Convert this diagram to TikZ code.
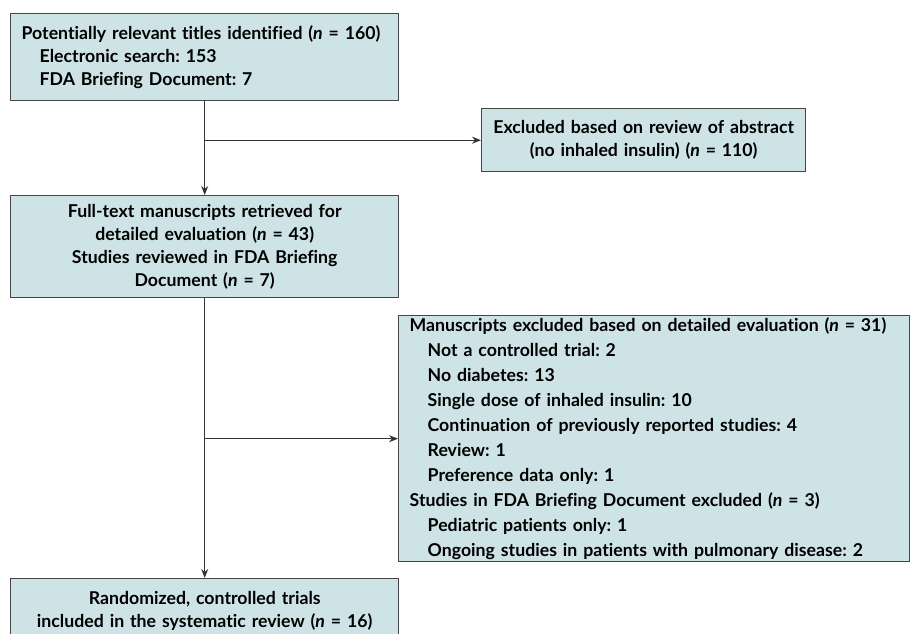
\documentclass[tikz,border=0pt]{standalone}
\usepackage{fontspec}
\setmainfont{Lato}[Ligatures=NoCommon]
\usetikzlibrary{arrows.meta}
\definecolor{boxfill}{RGB}{206,227,230}
\definecolor{boxline}{RGB}{70,70,70}
\frenchspacing

\begin{document}
\begin{tikzpicture}[x=1pt,y=-1pt,
  box/.style={draw=boxline,fill=boxfill,line width=1.4pt,anchor=north west,
    inner xsep=11pt,inner ysep=0pt,font=\bfseries\fontsize{17.7}{23}\selectfont},
  flow/.style={draw=black!80,line width=1.2pt,-{Stealth[length=9pt,width=7pt]}}]
\useasboundingbox (0,0) rectangle (910,634);
\clip (0,0) rectangle (910,634);
\node[box,text width=366pt,align=left,minimum height=87pt] (found) at (10,13)
  {Potentially relevant titles identified (\textit{n} = 160)\\
   \hspace*{18pt}Electronic search: 153\\
   \hspace*{18pt}FDA Briefing Document: 7};
\node[box,text width=302pt,align=center,minimum height=63pt] (skip) at (481,108)
  {Excluded based on review of abstract\\(no inhaled insulin) (\textit{n} = 110)};
\node[box,text width=366pt,align=center,minimum height=102pt] (full) at (10,195)
  {Full-text manuscripts retrieved for\\detailed evaluation (\textit{n} = 43)\\
   Studies reviewed in FDA Briefing\\Document (\textit{n} = 7)};
\node[box,text width=489pt,align=left,minimum height=246pt,
  font=\bfseries\fontsize{17.7}{25}\selectfont] (excl) at (398,315)
  {Manuscripts excluded based on detailed evaluation (\textit{n} = 31)\\
   \hspace*{18pt}Not a controlled trial: 2\\
   \hspace*{18pt}No diabetes: 13\\
   \hspace*{18pt}Single dose of inhaled insulin: 10\\
   \hspace*{18pt}Continuation of previously reported studies: 4\\
   \hspace*{18pt}Review: 1\\
   \hspace*{18pt}Preference data only: 1\\
   Studies in FDA Briefing Document excluded (\textit{n} = 3)\\
   \hspace*{18pt}Pediatric patients only: 1\\
   \hspace*{18pt}Ongoing studies in patients with pulmonary disease: 2};
\node[box,text width=366pt,align=center,minimum height=64pt] (incl) at (10,578)
  {Randomized, controlled trials\\included in the systematic review (\textit{n} = 16)};
\draw[flow] (found.south) -- (full.north);
\draw[flow] (found.south |- skip.west) -- (skip.west);
\draw[flow] (full.south) -- (incl.north);
\draw[flow] (full.south |- excl.west) -- (excl.west);
\end{tikzpicture}
\end{document}
